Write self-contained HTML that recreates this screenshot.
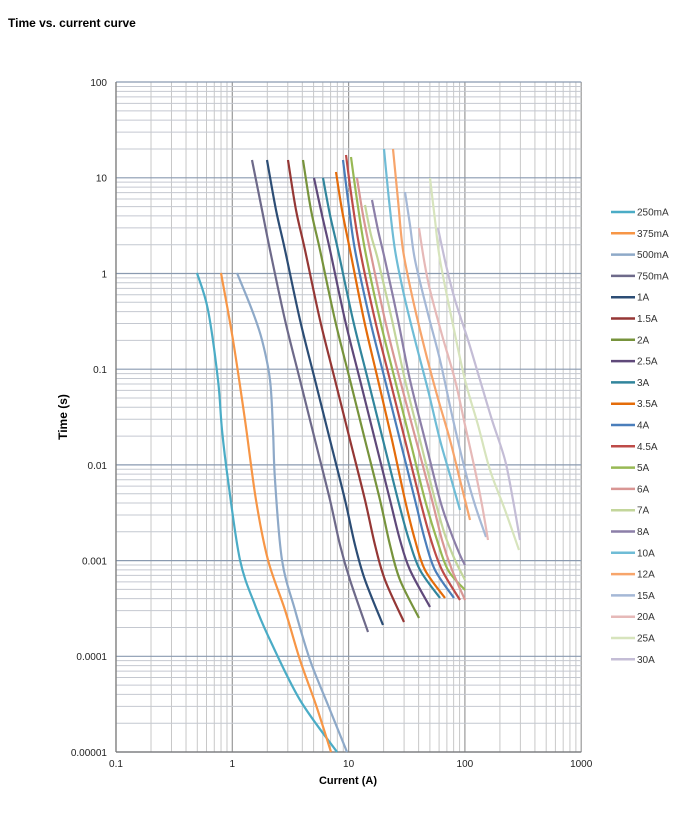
<!DOCTYPE html>
<html><head><meta charset="utf-8"><style>
body{margin:0;background:#fff;width:700px;height:808px;overflow:hidden;font-family:"Liberation Sans",Arial,sans-serif}
svg text{font-family:"Liberation Sans",Arial,sans-serif}
</style></head><body>
<svg id="s" width="700" height="808" xmlns="http://www.w3.org/2000/svg">
<text x="8" y="27" font-size="12" font-weight="bold">Time vs. current curve</text>
<g id="grid"></g>
<g id="curves" fill="none" stroke-width="2.2" stroke-linejoin="round" stroke-linecap="butt"></g>
<g id="labels" font-size="10" fill="#222"></g>
<g id="legend" font-size="10" fill="#333"></g>
<text x="348" y="784" font-size="11" font-weight="bold" text-anchor="middle">Current (A)</text>
<text transform="translate(67,417) rotate(-90)" font-size="12" font-weight="bold" text-anchor="middle">Time (s)</text>
</svg>
<script>
var NS="http://www.w3.org/2000/svg";
function el(p,t,a){var e=document.createElementNS(NS,t);for(var k in a)e.setAttribute(k,a[k]);p.appendChild(e);return e;}
var X0=116,XD=116.3,Y0=82,YD=95.7;
var g=document.getElementById('grid');
// vertical lines
for(var d=0;d<4;d++){for(var m=1;m<10;m++){var x=X0+XD*(d+Math.log10(m));el(g,'line',{x1:x,x2:x,y1:Y0,y2:752,stroke:m==1?'#999':'#c8c8c8','stroke-width':m==1?1.2:1});}}
el(g,'line',{x1:X0+4*XD,x2:X0+4*XD,y1:Y0,y2:752,stroke:'#999','stroke-width':1.2});
// horizontal
for(var d=0;d<7;d++){for(var m=1;m<10;m++){var y=752-YD*(d+Math.log10(m));el(g,'line',{x1:X0,x2:X0+4*XD,y1:y,y2:y,stroke:m==1?'#8a9ab0':'#c4c8d0','stroke-width':m==1?1.2:1});}}
el(g,'line',{x1:X0,x2:X0+4*XD,y1:Y0,y2:Y0,stroke:'#8a9ab0','stroke-width':1.2});
el(g,'line',{x1:X0,x2:X0,y1:Y0,y2:752,stroke:'#777','stroke-width':1.2});
el(g,'line',{x1:X0,x2:X0+4*XD,y1:752,y2:752,stroke:'#777','stroke-width':1.2});
var L=document.getElementById('labels');
['100','10','1','0.1','0.01','0.001','0.0001','0.00001'].forEach(function(t,i){var e=el(L,'text',{x:107,y:Y0+YD*i+4,'text-anchor':'end'});e.textContent=t;});
['0.1','1','10','100','1000'].forEach(function(t,i){var e=el(L,'text',{x:X0+XD*i,y:767,'text-anchor':'middle'});e.textContent=t;});
var C=[
['250mA','#4bacc6',[[197,273],[208,310],[218,380],[222,430],[228,480],[240,560],[255,605],[270,640],[300,700],[337,752]]],
['375mA','#f79646',[[221,273],[233,340],[245,420],[256,500],[268,560],[285,610],[300,660],[316,705],[331,752]]],
['500mA','#8ea9c8',[[237,273],[252,310],[262,340],[270,380],[273,430],[275,480],[282,560],[295,610],[310,660],[328,705],[347,752]]],
['750mA','#6e6a8a',[[252,160],[262,210],[270,250],[285,320],[300,380],[315,440],[330,500],[340,545],[350,580],[368,632]]],
['1A','#2c4d75',[[267,160],[276,210],[285,250],[300,320],[315,380],[330,440],[345,500],[355,545],[365,580],[383,625]]],
['1.5A','#953735',[[288,160],[296,210],[305,250],[320,320],[335,380],[350,440],[365,500],[375,545],[385,580],[404,622]]],
['2A','#77933c',[[303,160],[311,210],[320,250],[335,320],[350,380],[365,440],[380,500],[390,545],[400,580],[419,618]]],
['2.5A','#5f497a',[[314,178],[322,215],[330,250],[345,320],[360,380],[375,440],[390,500],[400,540],[410,570],[430,607]]],
['3A','#31859c',[[323,178],[330,215],[338,250],[353,320],[368,380],[383,440],[398,500],[409,540],[420,570],[440,598]]],
['3.5A','#e46c0a',[[336,172],[342,210],[350,250],[364,320],[378,380],[392,440],[405,500],[415,540],[425,570],[445,598]]],
['4A','#4a7ebb',[[343,160],[348,200],[355,250],[370,320],[385,380],[400,440],[415,500],[425,540],[435,570],[454,598]]],
['4.5A','#be4b48',[[346,155],[352,200],[360,250],[375,320],[390,380],[405,440],[420,500],[431,540],[442,570],[460,600]]],
['5A','#98b954',[[351,157],[357,200],[365,250],[380,320],[395,380],[410,440],[425,500],[437,540],[448,570],[465,590]]],
['6A','#d99694',[[357,178],[363,215],[370,250],[385,320],[400,380],[416,440],[432,500],[442,540],[452,570],[465,600]]],
['7A','#c3d69b',[[365,205],[371,235],[378,260],[392,320],[405,380],[420,440],[435,500],[445,535],[455,560],[465,580]]],
['8A','#8c7fa8',[[372,200],[378,230],[385,260],[398,320],[410,380],[425,440],[440,500],[450,530],[460,555],[465,565]]],
['10A','#6fbcd6',[[384,149],[389,200],[395,250],[404,295],[415,340],[428,390],[440,440],[450,475],[460,510]]],
['12A','#f7a56b',[[393,149],[398,200],[403,250],[413,300],[425,350],[437,395],[450,440],[460,480],[470,520]]],
['15A','#a5b8d6',[[405,192],[410,225],[415,260],[427,310],[440,360],[452,415],[465,470],[475,505],[486,537]]],
['20A','#e6b9b8',[[419,228],[424,260],[430,290],[442,335],[455,380],[465,425],[475,470],[482,505],[488,540]]],
['25A','#d7e4bd',[[430,178],[435,220],[440,260],[452,320],[465,380],[478,425],[490,470],[505,510],[519,550]]],
['30A','#c4bdd6',[[438,228],[446,265],[455,300],[468,340],[480,380],[492,420],[505,460],[513,500],[520,540]]]
];
var cg=document.getElementById('curves'),lg=document.getElementById('legend');
C.forEach(function(c,i){
 var p=c[2],d='M'+p[0][0]+','+p[0][1];
 for(var k=0;k<p.length-1;k++){var p0=p[k-1]||p[k],p1=p[k],p2=p[k+1],p3=p[k+2]||p2;
  d+=' C'+(p1[0]+(p2[0]-p0[0])/6)+','+(p1[1]+(p2[1]-p0[1])/6)+' '+(p2[0]-(p3[0]-p1[0])/6)+','+(p2[1]-(p3[1]-p1[1])/6)+' '+p2[0]+','+p2[1];}
 el(cg,'path',{d:d,stroke:c[1]});
 var y=212+i*21.3;
 el(lg,'line',{x1:611,x2:635,y1:y,y2:y,stroke:c[1],'stroke-width':2.5});
 var t=el(lg,'text',{x:637,y:y+3.5});t.textContent=c[0];
});
</script>
</body></html>
